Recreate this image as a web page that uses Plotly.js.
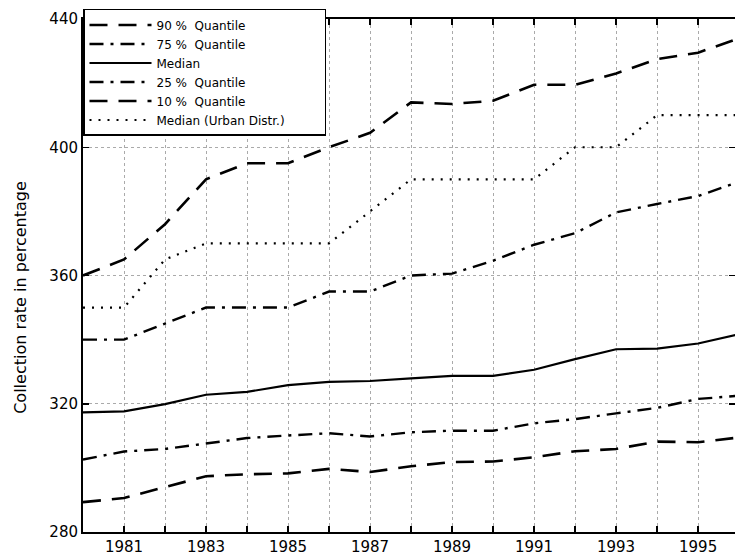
<!DOCTYPE html>
<html>
<head>
<meta charset="utf-8">
<script src="https://cdn.plot.ly/plotly-3.0.1.min.js"></script>
<style>html,body{margin:0;padding:0;background:#fff;}#chart{width:735px;height:556px;}</style>
</head>
<body>
<div id="chart"></div>
<script>
const years = [1980,1981,1982,1983,1984,1985,1986,1987,1988,1989,1990,1991,1992,1993,1994,1995,1996];
const q90 = [360,365,376,390,395,395,400,404.5,414,413.5,414.5,419.5,419.5,423,427.5,429.5,434];
const q75 = [340,340,345,350,350,350,355,355,360,360.6,364.6,369.6,373.2,379.7,382.3,384.8,389.2];
const median = [317.3,317.6,319.9,322.8,323.7,325.8,326.8,327.1,327.9,328.7,328.7,330.6,333.9,337,337.2,338.8,341.7];
const q25 = [302.6,305.1,305.9,307.5,309.3,310.1,310.8,309.8,311.1,311.6,311.6,313.9,315.2,317,318.7,321.5,322.5];
const q10 = [289.3,290.6,294,297.4,298,298.3,299.7,298.7,300.5,301.8,302,303.3,305.2,305.9,308.2,308,309.5];
const urban = [350,350,365,370,370,370,370,380,390,390,390,390,400,400,410,410,410];
const seriesNames = ['90 %\u00a0 Quantile','75 %\u00a0 Quantile','Median','25 %\u00a0 Quantile','10 %\u00a0 Quantile','Median (Urban Distr.)' + '\u00a0'.repeat(9)];
const tickYears = years;
const tickText = years.map(y => (y % 2 === 1) ? String(y) : '');
const yTicks = [280,320,360,400,440];

const series = [q90, q75, median, q25, q10, urban];
const dashes = ['18px,11px','14px,7px,3px,7px','solid','14px,7px,3px,7px','18px,11px','2px,7px'];
const widths = [2.6,2.4,2.2,2.4,2.6,2.2];

const traces = series.map((s,i) => ({
  x: years, y: s, type: 'scatter', mode: 'lines', name: seriesNames[i],
  line: {color: '#000', width: widths[i], dash: dashes[i]}
}));

const font = {family: 'DejaVu Sans, sans-serif', color: '#000'};
const layout = {
  width: 735, height: 556,
  margin: {l: 83, r: 0, t: 19, b: 24, pad: 0},
  paper_bgcolor: '#fff', plot_bgcolor: '#fff',
  showlegend: true,
  legend: {
    x: 0, y: 1.0195, xanchor: 'left', yanchor: 'top',
    bgcolor: '#fff', bordercolor: '#000', borderwidth: 1.5,
    font: {family: font.family, size: 12, color: '#000'},
    itemwidth: 62, tracegroupgap: 0
  },
  xaxis: {
    range: [1980, 1995.9],
    tickmode: 'array', tickvals: tickYears, ticktext: tickText,
    ticks: 'inside', ticklen: 6, tickwidth: 1.5, tickcolor: '#000',
    showline: true, linecolor: '#000', linewidth: 2, mirror: 'ticks',
    showgrid: true, gridcolor: '#aaa', gridwidth: 1, griddash: 'dot',
    zeroline: false,
    tickfont: {family: font.family, size: 15, color: '#000'}
  },
  yaxis: {
    range: [280, 440],
    tickmode: 'array', tickvals: yTicks,
    ticks: 'inside', ticklen: 6, tickwidth: 1.5, tickcolor: '#000',
    showline: true, linecolor: '#000', linewidth: 2, mirror: 'ticks',
    showgrid: true, gridcolor: '#aaa', gridwidth: 1, griddash: 'dot',
    zeroline: false,
    tickfont: {family: font.family, size: 15, color: '#000'}
  },
  annotations: [{
    text: 'Collection rate in percentage', textangle: -90,
    xref: 'paper', yref: 'paper', x: -0.097, y: 0.458,
    xanchor: 'center', yanchor: 'middle', showarrow: false,
    font: {family: font.family, size: 16, color: '#000'}
  }]
};
Plotly.newPlot('chart', traces, layout, {displayModeBar: false, staticPlot: true});
</script>
</body>
</html>
